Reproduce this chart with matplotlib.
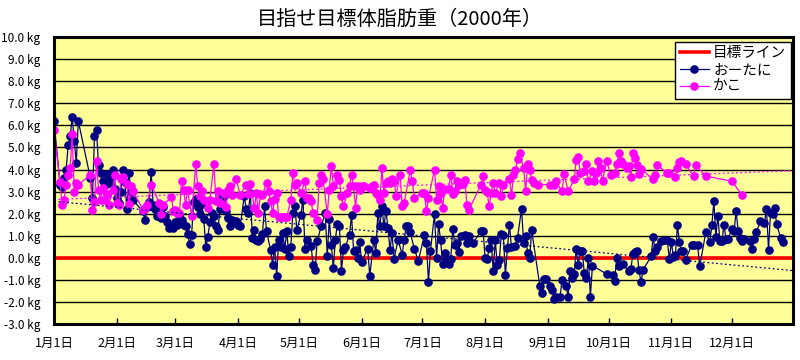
import matplotlib
matplotlib.use('Agg')
import matplotlib.pyplot as plt

plt.rcParams['font.family'] = ['Noto Sans CJK JP', 'DejaVu Sans']

# day of year 2000 (0 = 1月1日)
otani_day = [0, 3, 4, 5, 6, 7, 8, 9, 10, 11, 12, 18, 19, 20, 21, 22, 23, 24, 25, 26, 27, 28, 29, 30, 31, 32, 33, 34, 35, 36, 37, 38, 39,
             44, 45, 46, 47, 48, 49, 50, 51, 52, 53, 54, 55, 56, 57, 58, 59, 60, 61, 62, 63, 64, 65, 66, 67, 68, 69, 70, 71, 72, 73, 74,
             75, 76, 77, 78, 79, 80, 81, 82, 83, 84, 85, 86, 87, 88, 90, 91, 92, 94, 95, 96, 97, 98, 99, 100, 101, 102, 103, 104, 105,
             107, 108, 109, 110, 111, 112, 113, 114, 115, 116, 117, 118, 119, 120, 122, 123, 124, 125, 127, 128, 129, 130, 132, 134,
             135, 136, 137, 138, 139, 140, 141, 142, 143, 144, 146, 147, 148, 149, 150, 151, 152, 155, 156, 158, 159, 160, 161, 162,
             163, 164, 165, 166, 167, 168, 170, 172, 173, 174, 175, 176, 178, 180, 183, 184, 185, 186, 188, 189, 190, 191, 192, 193,
             194, 195, 196, 197, 198, 199, 200, 201, 203, 204, 205, 207, 211, 212, 213, 214, 215, 216, 217, 218, 219, 220, 221, 222,
             223, 224, 225, 226, 228, 229, 231, 232, 233, 234, 235, 236, 240, 241, 242, 243, 245, 246, 247, 248, 250, 251, 253, 254,
             255, 256, 257, 258, 259, 260, 261, 262, 263, 264, 265, 266, 273, 276, 277, 278, 279, 281, 284, 285, 286, 287, 288, 289,
             290, 291, 295, 296, 297, 298, 300, 302, 303, 304, 305, 306, 307, 308, 309, 310, 311, 312, 315, 316, 318, 319, 322, 324,
             325, 326, 327, 328, 329, 330, 331, 332, 333, 335, 336, 337, 338, 339, 340, 341, 344, 345, 346, 347, 349, 351, 352, 353,
             354, 355, 356, 357, 359, 360]
otani_val = [6.2, 3.3, 3.2, 3.6, 4.0, 5.1, 5.5, 6.4, 5.3, 4.3, 6.2, 3.6, 2.7, 5.5, 5.8, 4.2, 3.85, 3.5, 3.3, 3.8, 3.4, 3.6, 4.0, 3.1, 2.7, 2.5, 3.0, 4.0, 3.45, 2.2, 3.85, 3.0, 2.6,
             2.1, 1.7, 2.3, 2.55, 3.9, 2.4, 2.2, 1.9, 2.1, 1.8, 2.3, 1.9, 1.6, 1.35, 1.45, 1.35, 1.6, 1.5, 1.95, 1.7, 1.5, 1.45, 1.1, 0.64, 1.05, 2.55, 2.65, 2.3, 2.0, 2.45, 1.75,
             0.5, 0.95, 1.6, 2.05, 1.9, 1.45, 1.27, 2.2, 2.8, 2.8, 2.1, 1.8, 1.45, 1.73, 1.65, 1.5, 1.43, 2.8, 2.2, 2.05, 2.95, 0.9, 1.27, 0.8, 0.75, 0.85, 1.1, 2.33, 1.2,
             0.36, -0.32, 0.5, -0.82, 0.79, 0.5, 1.12, 0.4, 1.2, 0.1, 0.5, 2.03, 2.33, 1.27, 1.95, 2.64, 0.4, 0.82, 0.55, -0.32, -0.55, 0.75, 1.43, 2.03,
             0.06, 1.76, 0.6, -0.47, 0.82, 1.55, 1.45, -0.62, 0.36, 0.5, 1.05, 1.95, 0.33, 0.36, 0.0, 0.71, -0.17, 0.4, -0.82, 0.82, 0.21, 2.03, 1.43, 2.33,
             1.43, 2.14, 1.35, 0.36, 1.12, -0.05, 0.82, 0.14, 0.82, 1.43, 1.43, 1.15, 0.4, -0.14, 1.05, 0.67, -1.1, 0.32, 2.0, 0.0, 1.53, 0.79, -0.29, 0.21,
             -0.06, -0.29, -0.05, 1.32, 0.59, 0.67, 0.26, 1.0, 1.05, 0.67, 0.97, 0.67, 1.2, 1.2, 0.01, -0.05, 0.44, 0.79, -0.58, 0.79, -0.32, -0.12, 1.08, 1.05,
             -0.8, 0.44, 1.5, 0.47, 0.52, 0.9, 2.23, 0.67, 0.97, 0.21, 0.0, 1.24, -1.27, -1.6, -0.97, -0.97, -1.27, -1.45, -1.88, -1.79, -1.79, -1.0, -1.27, -1.76,
             -0.59, -0.92, -0.74, 0.4, -0.32, 0.29, 0.29, -0.7, -0.92, 0.0, -1.76, -0.36, -0.73, -0.77, -1.03, 0.01, -0.36, -0.27, -0.62, -0.51, 0.18, 0.24, 0.29, -0.55,
             -1.1, -0.55, 0.06, 0.94, 0.29, 0.49, 0.75, 0.79, 0.79, -0.05, 0.71, 0.03, 0.14, 1.47, 0.71, 0.33, 0.29, -0.09, 0.56, 0.56, 0.56, -0.39, 1.15, 0.7,
             1.47, 2.56, 0.94, 1.91, 0.74, 0.74, 1.5, 0.85, 0.85, 1.32, 1.2, 2.14, 1.2, 0.9, 0.74, 0.85, 0.74, 0.41, 0.85, 1.17, 1.65, 1.58, 2.21, 0.36,
             2.03, 1.98, 2.26, 1.53, 0.9, 0.71]

kako_day = [0, 3, 4, 5, 6, 7, 8, 9, 10, 11, 12, 18, 19, 20, 21, 22, 23, 24, 25, 26, 27, 29, 30, 31, 32, 33, 34, 36, 37, 38, 39,
            44, 45, 46, 48, 52, 53, 54, 58, 59, 60, 61, 62, 63, 64, 65, 66, 68, 70, 71, 72, 73, 74, 76, 77, 79, 80, 81, 82, 84, 85,
            86, 87, 88, 90, 92, 95, 96, 97, 99, 100, 101, 102, 103, 105, 106, 107, 108, 109, 110, 111, 112, 113, 114, 115, 117, 118,
            119, 120, 122, 124, 125, 126, 127, 128, 130, 131, 132, 133, 135, 136, 137, 138, 140, 141, 142, 143, 145, 146, 147, 148,
            149, 150, 151, 152, 153, 156, 157, 158, 159, 160, 161, 162, 163, 164, 165, 166, 167, 168, 169, 171, 172, 173, 176, 177,
            178, 182, 183, 184, 185, 188, 189, 190, 191, 192, 193, 195, 196, 197, 198, 199, 200, 202, 203, 204, 205, 211, 212, 213,
            214, 215, 216, 217, 218, 220, 221, 222, 225, 226, 227, 228, 229, 230, 232, 233, 234, 235, 236, 237, 239, 245, 247, 248,
            251, 252, 254, 257, 258, 259, 260, 262, 263, 264, 266, 267, 268, 269, 270, 271, 273, 275, 277, 278, 279, 280, 281, 283,
            284, 285, 286, 287, 288, 289, 290, 296, 297, 298, 303, 304, 307, 308, 309, 310, 312, 316, 317, 322, 335, 340]
kako_val = [5.8, 3.42, 2.38, 2.64, 3.29, 3.74, 4.08, 5.6, 2.97, 3.4, 3.3, 3.77, 2.18, 2.53, 4.38, 3.09, 2.64, 3.14, 2.64, 2.9, 2.38, 3.09, 3.74, 2.49, 2.41, 3.55, 3.65, 3.36, 2.44, 3.24, 3.01,
            2.18, 2.26, 2.41, 3.32, 2.49, 1.99, 2.41, 2.74, 2.14, 2.18, 2.03, 2.03, 3.47, 3.09, 2.41, 3.09, 1.88, 4.23, 3.24, 2.79, 3.01, 2.64, 2.26, 2.64, 4.23, 2.56, 3.01, 2.49, 2.94, 2.3,
            3.09, 3.24, 2.86, 3.55, 2.86, 3.32, 2.91, 3.35, 2.26, 2.94, 2.03, 2.91, 2.86, 3.4, 3.01, 2.56, 2.03, 2.67, 2.94, 1.85, 1.85, 1.85, 1.85, 1.85, 2.6, 3.85,
            3.32, 3.4, 2.94, 3.47, 2.71, 2.71, 2.56, 2.03, 1.73, 3.4, 3.77, 3.55, 1.98, 3.09, 4.18, 3.24, 3.77, 3.51, 2.79, 2.33, 2.94, 3.27, 3.74, 3.24,
            2.26, 3.24, 3.09, 3.24, 3.24, 3.17, 3.27, 3.32, 2.94, 2.86, 2.6, 4.05, 2.94, 3.4, 3.47, 3.4, 3.55, 3.47, 2.82, 3.77, 2.33, 2.49, 3.97, 3.47,
            2.71, 2.94, 2.94, 2.1, 2.71, 4.0, 2.64, 3.24, 2.94, 2.26, 3.12, 3.12, 3.77, 2.91, 3.01, 3.5, 3.32, 3.35, 3.51, 2.41, 2.18, 3.32, 3.7, 3.09,
            2.97, 2.33, 2.94, 3.4, 2.94, 3.4, 2.79, 3.32, 3.58, 2.83, 3.73, 3.97, 4.49, 4.73, 4.08, 3.01, 4.23, 4.0, 3.51, 3.4, 3.32, 3.32, 3.32, 3.47,
            3.01, 3.8, 3.01, 3.55, 4.42, 4.58, 3.85, 3.92, 4.23, 3.47, 3.92, 3.47, 3.85, 4.38, 4.08, 3.47, 4.38, 3.77, 3.82, 4.23, 4.76, 4.38, 4.23, 4.08,
            4.18, 3.67, 4.76, 4.53, 4.2, 3.8, 4.03, 3.55, 3.77, 4.2, 3.85, 3.82, 3.67, 4.08, 4.33, 4.38, 4.23, 3.7, 4.2, 3.7, 3.47, 2.83]

# linear trend lines (start / end values)
trend_x = [0, 365]
otani_trend = [2.56, -0.58]
kako_trend = [2.64, 3.95]

month_days = [0, 31, 60, 91, 121, 152, 182, 213, 244, 274, 305, 335]
month_labels = ['1月1日', '2月1日', '3月1日', '4月1日', '5月1日', '6月1日',
                '7月1日', '8月1日', '9月1日', '10月1日', '11月1日', '12月1日']
y_ticks = list(range(-3, 11))

fig = plt.figure(figsize=(8, 3.6), dpi=100)
ax = fig.add_axes([0.0675, 0.1, 0.9235, 0.797])
ax.set_facecolor('#ffff99')

for yv in y_ticks:
    ax.axhline(yv, color='black', lw=1.0, zorder=1)

ax.axhline(0, color='#ff0000', lw=2.6, zorder=2, label='目標ライン')
ax.plot(otani_day, otani_val, color='#000080', lw=0.9, marker='o', ms=5.2,
        mfc='#000080', mec='#000080', zorder=3, label='おーたに')
ax.plot(kako_day, kako_val, color='#ff00ff', lw=0.9, marker='o', ms=5.2,
        mfc='#ff00ff', mec='#ff00ff', zorder=4, label='かこ')
ax.plot(trend_x, otani_trend, color='#000080', lw=0.9, ls=(0, (1.5, 2)), zorder=5)
ax.plot(trend_x, kako_trend, color='#ff00ff', lw=0.9, ls=(0, (1.5, 2)), zorder=5)

ax.set_xlim(0, 365)
ax.set_ylim(-3, 10)
ax.set_xticks(month_days)
ax.set_xticklabels(month_labels, fontsize=9)
ax.set_yticks(y_ticks)
ax.set_yticklabels(['%.1f kg' % v for v in y_ticks], fontsize=8.5)
ax.tick_params(axis='x', direction='in', length=4, width=1, pad=9)
ax.tick_params(axis='y', length=0, pad=10)
for s in ax.spines.values():
    s.set_linewidth(2.2)
    s.set_zorder(6)

fig.suptitle('目指せ目標体脂肪重（2000年）', fontsize=14.5, y=0.975)

leg = ax.legend(loc='upper right', bbox_to_anchor=(0.997, 0.983), fontsize=10.5,
                frameon=True, fancybox=False, framealpha=1, edgecolor='black',
                borderpad=0.3, labelspacing=0.2, handlelength=2.0, handletextpad=0.3,
                borderaxespad=0)
leg.get_frame().set_linewidth(1.0)

fig.savefig('out.png', dpi=100, facecolor='white')
